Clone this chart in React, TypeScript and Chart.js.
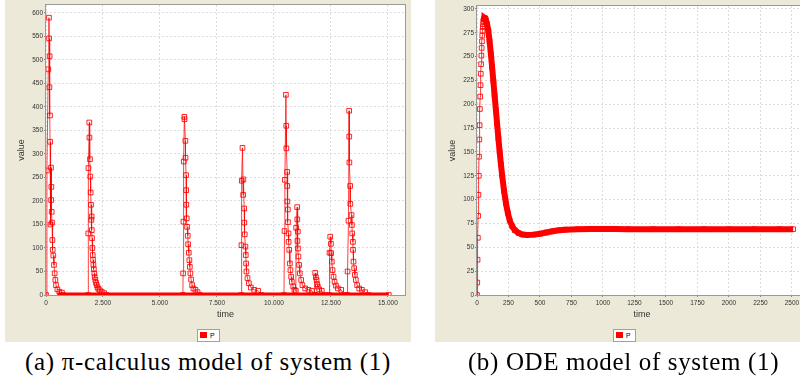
import React, { useEffect, useRef } from "react";
import { Chart, registerables } from "chart.js";

Chart.register(...registerables);

// ---------- (a) pi-calculus model: stochastic simulation of P ----------
const PI_TIME = [
  0, 40, 100, 130, 135, 150, 160, 175, 180, 200, 220, 225, 235, 250, 265, 280, 295, 320, 350, 380, 410, 440, 500, 585, 700, 760,
  1845, 1855, 1860, 1900, 1905, 1930, 1945, 1960, 1975, 1990, 2005, 2010, 2020, 2035, 2050, 2065, 2080, 2100, 2120, 2140, 2165, 2195, 2225, 2260, 2300, 2360, 2445, 2550, 2650,
  6005, 6015, 6030, 6045, 6070, 6075, 6115, 6120, 6145, 6150, 6155, 6175, 6190, 6220, 6235, 6265, 6290, 6310, 6335, 6365, 6410, 6465, 6555, 6650, 6750,
  8565, 8575, 8590, 8620, 8650, 8660, 8695, 8700, 8720, 8750, 8765, 8780, 8795, 8840, 8900, 8985, 9130, 9305, 9450,
  10440, 10465, 10480, 10525, 10540, 10545, 10580, 10585, 10590, 10610, 10615, 10640, 10645, 10670, 10700, 10725, 10755, 10785, 10845, 10900,
  10960, 10975, 11020, 11025, 11030, 11050, 11055, 11075, 11105, 11135, 11195, 11250, 11370, 11515, 11665, 11780,
  11800, 11810, 11840, 11870, 11895, 11925, 11985, 12100, 12200,
  12430, 12440, 12470, 12500, 12510, 12540, 12570, 12615, 12660, 12720, 12805, 12950, 13100,
  13225, 13230, 13270, 13300, 13305, 13310, 13345, 13350, 13405, 13420, 13435, 13465, 13470, 13490, 13520, 13550, 13595, 13650, 13740, 13860, 14000, 14150, 15040,
];
const PI_P = [
  0, 265, 480, 590, 546, 442, 508, 382, 326, 150, 271, 202, 230, 177, 154, 117, 96, 84, 64, 46, 32, 21, 12, 7, 5, 0,
  0, 131, 270, 367, 335, 289, 252, 218, 192, 160, 167, 138, 121, 100, 85, 75, 64, 55, 46, 38, 32, 26, 21, 16, 13, 10, 7, 4, 0,
  0, 46, 156, 284, 379, 374, 328, 292, 255, 223, 192, 163, 145, 126, 108, 90, 74, 60, 46, 33, 21, 14, 11, 6, 0,
  0, 106, 243, 313, 213, 246, 184, 154, 129, 103, 85, 67, 50, 36, 25, 16, 11, 9, 0,
  0, 136, 245, 426, 360, 312, 262, 232, 199, 182, 155, 131, 113, 96, 67, 53, 39, 28, 18, 11,
  9, 143, 187, 161, 115, 135, 99, 82, 64, 46, 32, 21, 14, 11, 9, 0,
  0, 47, 38, 32, 23, 18, 12, 9, 0,
  0, 90, 124, 109, 89, 71, 53, 39, 28, 20, 14, 11, 0,
  0, 50, 158, 392, 337, 282, 232, 194, 170, 149, 131, 113, 96, 71, 57, 43, 32, 21, 14, 11, 6, 0, 0,
];
// long runs of P = 0 (dense markers along the axis)
const PI_ZERO_TIME = [500, 15040];
const PI_ZERO_P = [0, 0];
const PI_X_TICKS = [0, 2500, 5000, 7500, 10000, 12500, 15000];
const PI_Y_TICKS = [0, 50, 100, 150, 200, 250, 300, 350, 400, 450, 500, 550, 600];

// ---------- (b) ODE model: deterministic P ----------
const ODE_TIME = [
  0, 2, 4.5, 7, 9, 11.5, 14, 16, 18.5, 21, 23, 25.5, 28, 30, 32.5, 35, 37, 39.5, 42, 44, 46.5, 49, 51, 53.5, 56,
  60, 65, 70, 80, 90, 100, 110, 120, 130, 140, 150, 160, 170, 180, 190, 200, 215, 230, 245, 260, 280, 300, 330, 360, 400,
  450, 500, 550, 600, 650, 700, 800, 900, 1000, 1100, 1200, 1400, 1600, 1800, 2000, 2200, 2400, 2510,
];
const ODE_P = [
  0, 13, 37, 60, 83, 105, 125, 145, 163, 178, 195, 208, 220, 232, 242, 251, 259, 266, 272, 277, 281, 284, 287, 289, 290,
  290.5, 290, 289, 284, 277, 266, 253, 239, 224, 209, 194, 179, 164, 150, 137, 125, 109, 96, 86, 78, 72, 68, 65, 63.5, 63,
  63.3, 64.3, 65.5, 66.8, 67.8, 68.5, 69, 69.3, 69.3, 69.1, 69, 69, 69, 69, 69, 69, 69, 69,
];
const ODE_X_TICKS = [0, 250, 500, 750, 1000, 1250, 1500, 1750, 2000, 2250, 2500];
const ODE_Y_TICKS = [0, 25, 50, 75, 100, 125, 150, 175, 200, 225, 250, 275, 300];
const ODE_BAND_FROM = 50; // markers overlap into a solid band from here on

const BEIGE = "#ECE9D8";
const SANS = "'Liberation Sans', Arial, sans-serif";
const RED = "#ff0000";

const fmtDots = (v: number) => String(v).replace(/\B(?=(\d{3})+(?!\d))/g, ".");

const plotFrame = {
  id: "plotFrame",
  beforeDraw(chart: any) {
    const { ctx, chartArea } = chart;
    ctx.save();
    ctx.fillStyle = "#ffffff";
    ctx.fillRect(chartArea.left, chartArea.top, chartArea.right - chartArea.left, chartArea.bottom - chartArea.top);
    ctx.restore();
  },
  afterDraw(chart: any) {
    const { ctx, chartArea } = chart;
    ctx.save();
    ctx.strokeStyle = "#999999";
    ctx.lineWidth = 1;
    ctx.strokeRect(
      Math.round(chartArea.left) - 0.5,
      Math.round(chartArea.top) - 0.5,
      Math.round(chartArea.right - chartArea.left) + 1,
      Math.round(chartArea.bottom - chartArea.top) + 1
    );
    ctx.restore();
  },
};

function axis(opts: {
  ticks: number[];
  min: number;
  max: number;
  fmt: (v: number) => string;
  title: string;
  titlePad: any;
  fit: (s: any) => void;
  pad: number;
}) {
  return {
    type: "linear",
    min: opts.min,
    max: opts.max,
    afterBuildTicks: (s: any) => {
      s.ticks = opts.ticks.map((v) => ({ value: v }));
    },
    afterFit: opts.fit,
    ticks: {
      autoSkip: false,
      maxRotation: 0,
      padding: opts.pad,
      color: "#333333",
      font: { family: SANS, size: 6.5 },
      callback: (v: any) => opts.fmt(Number(v)),
    },
    grid: {
      color: "#dcdcdc",
      lineWidth: 1,
      drawTicks: true,
      tickLength: 2,
      tickColor: "#888888",
      tickBorderDash: [],
    },
    border: { display: false, dash: [2, 2] },
    title: {
      display: true,
      text: opts.title,
      color: "#333333",
      font: { family: SANS, size: 9 },
      padding: opts.titlePad,
    },
  };
}

function PiChart() {
  const ref = useRef<HTMLCanvasElement>(null);
  useEffect(() => {
    const chart = new Chart(ref.current as HTMLCanvasElement, {
      type: "line",
      data: {
        datasets: [
          {
            label: "P",
            data: PI_TIME.map((t, i) => ({ x: t, y: PI_P[i] })),
            borderColor: "rgba(255,0,0,0.75)",
            borderWidth: 1,
            pointStyle: "rect",
            pointRadius: 3.3,
            pointBorderWidth: 1,
            pointBorderColor: "rgba(255,0,0,0.85)",
            pointBackgroundColor: "rgba(0,0,0,0)",
            clip: 0,
            tension: 0,
          } as any,
          {
            label: "zero",
            data: PI_ZERO_TIME.map((t, i) => ({ x: t, y: PI_ZERO_P[i] })),
            borderColor: RED,
            borderWidth: 5,
            pointRadius: 0,
            clip: 0,
          } as any,
        ],
      },
      options: {
        animation: false,
        responsive: false,
        devicePixelRatio: 1,
        layout: { padding: { left: 0, top: 5, right: 6, bottom: 0 } },
        plugins: { legend: { display: false }, tooltip: { enabled: false } },
        scales: {
          x: axis({
            ticks: PI_X_TICKS, min: 0, max: 15750, fmt: fmtDots, title: "time",
            titlePad: { top: 0, bottom: 22.5 }, fit: (s: any) => { s.height = 47; }, pad: 2,
          }),
          y: axis({
            ticks: PI_Y_TICKS, min: 0, max: 617, fmt: (v) => String(v), title: "value",
            titlePad: { top: 11, bottom: 0 }, fit: (s: any) => { s.width = 41; }, pad: 1,
          }),
        } as any,
      },
      plugins: [plotFrame],
    });
    return () => chart.destroy();
  }, []);
  return <canvas ref={ref} width={406} height={342} style={{ display: "block", width: 406, height: 342 }} />;
}

function OdeChart() {
  const ref = useRef<HTMLCanvasElement>(null);
  useEffect(() => {
    const pts = ODE_TIME.map((t, i) => ({ x: t, y: ODE_P[i] }));
    const chart = new Chart(ref.current as HTMLCanvasElement, {
      type: "line",
      data: {
        datasets: [
          {
            label: "band",
            data: pts.filter((p) => p.x >= ODE_BAND_FROM),
            borderColor: RED,
            borderWidth: 6,
            pointRadius: 0,
            clip: 0,
            tension: 0,
          } as any,
          {
            label: "P",
            data: pts,
            borderColor: "rgba(255,0,0,0.8)",
            borderWidth: 1,
            pointStyle: "rect",
            pointRadius: 3.3,
            pointBorderWidth: 1,
            pointBorderColor: "rgba(255,0,0,0.85)",
            pointBackgroundColor: "rgba(0,0,0,0)",
            clip: 0,
            tension: 0,
          } as any,
        ],
      },
      options: {
        animation: false,
        responsive: false,
        devicePixelRatio: 1,
        layout: { padding: { left: 0, top: 6, right: 6, bottom: 0 } },
        plugins: { legend: { display: false }, tooltip: { enabled: false } },
        scales: {
          x: axis({
            ticks: ODE_X_TICKS, min: 0, max: 2620, fmt: (v) => String(v), title: "time",
            titlePad: { top: 0, bottom: 22.5 }, fit: (s: any) => { s.height = 47; }, pad: 2,
          }),
          y: axis({
            ticks: ODE_Y_TICKS, min: 0, max: 303, fmt: (v) => String(v), title: "value",
            titlePad: { top: 12, bottom: 0 }, fit: (s: any) => { s.width = 42; }, pad: 1,
          }),
        } as any,
      },
      plugins: [plotFrame],
    });
    return () => chart.destroy();
  }, []);
  return <canvas ref={ref} width={378} height={342} style={{ display: "block", width: 378, height: 342 }} />;
}

function Legend({ left }: { left: number }) {
  return (
    <div
      style={{
        position: "absolute", left, top: 329, width: 23, height: 13, boxSizing: "border-box",
        border: "1px solid #a0a0a0", background: "#ffffff",
      }}
    >
      <div style={{ position: "absolute", left: 2, top: 2, width: 7, height: 6, background: RED }} />
      <div
        style={{
          position: "absolute", left: 12, top: 0, fontFamily: SANS, fontSize: 7, lineHeight: "11px", color: "#000",
        }}
      >
        P
      </div>
    </div>
  );
}

const captionStyle: React.CSSProperties = {
  position: "absolute", top: 349, fontFamily: "'Liberation Serif', 'Times New Roman', serif", fontSize: 25,
  lineHeight: "25px", color: "#000", textAlign: "center", whiteSpace: "nowrap", letterSpacing: 0.65,
};

export default function App() {
  return (
    <div style={{ position: "fixed", left: 0, top: 0, width: 800, height: 381, background: "#fff", overflow: "hidden" }}>
      <div style={{ position: "absolute", left: 5, top: 0, width: 406, height: 342, background: BEIGE }}>
        <PiChart />
      </div>
      <div style={{ position: "absolute", left: 435, top: 0, width: 378, height: 342, background: BEIGE }}>
        <OdeChart />
      </div>
      <Legend left={197} />
      <Legend left={613} />
      <div style={{ ...captionStyle, left: 0, width: 416 }}>(a) π-calculus model of system (1)</div>
      <div style={{ ...captionStyle, left: 410, width: 427 }}>(b) ODE model of system (1)</div>
    </div>
  );
}
